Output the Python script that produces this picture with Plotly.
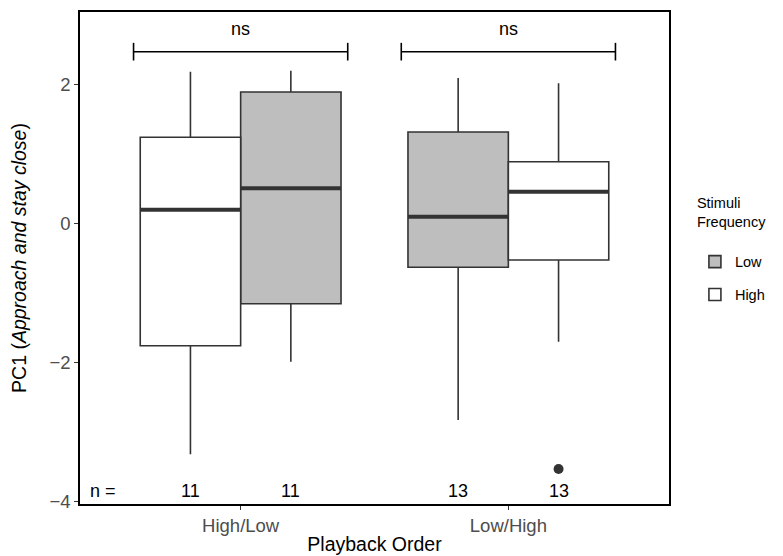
import plotly.graph_objects as go

# ---- data ----
orders = ["High/Low", "Low/High"]

low_q1 = [-1.151, -0.627]
low_median = [0.509, 0.101]
low_q3 = [1.895, 1.319]
low_lower = [-1.986, -2.824]
low_upper = [2.201, 2.096]
low_n = [11, 13]

high_q1 = [-1.755, -0.522]
high_median = [0.201, 0.460]
high_q3 = [1.243, 0.892]
high_lower = [-3.318, -1.698]
high_upper = [2.187, 2.020]
high_n = [11, 13]

high_outlier_order = ["Low/High"]
high_outlier_value = [-3.53]

sig_labels = ["ns", "ns"]
sig_bracket_y = 2.475
n_label_y = -3.84

# ---- style ----
DODGE = 0.1875
BOXW = 0.375
LINE = "#333333"
FONT = "Liberation Sans, Arial, sans-serif"


def pos(order, stim):
    g = orders.index(order) + 1
    first = order.split("/")[0]
    return g - DODGE if first == stim else g + DODGE


low_x = [pos(o, "Low") for o in orders]
high_x = [pos(o, "High") for o in orders]

fig = go.Figure()

for name, xs, q1, med, q3, lo, hi, fill in [
    ("Low", low_x, low_q1, low_median, low_q3, low_lower, low_upper, "#BEBEBE"),
    ("High", high_x, high_q1, high_median, high_q3, high_lower, high_upper, "#FFFFFF"),
]:
    fig.add_trace(go.Box(
        name=name, legendgroup=name, x=xs, q1=q1, median=med, q3=q3,
        lowerfence=lo, upperfence=hi, width=BOXW,
        fillcolor=fill, line=dict(color=LINE, width=1.6),
        whiskerwidth=0, boxpoints=False, hoverinfo="skip",
    ))
    mx, my = [], []
    for c, m in zip(xs, med):
        mx += [c - BOXW / 2, c + BOXW / 2, None]
        my += [m, m, None]
    fig.add_trace(go.Scatter(x=mx, y=my, mode="lines",
                             line=dict(color=LINE, width=4),
                             showlegend=False, hoverinfo="skip"))

# outlier
fig.add_trace(go.Scatter(
    x=[pos(o, "High") for o in high_outlier_order], y=high_outlier_value,
    mode="markers", marker=dict(color=LINE, size=10),
    showlegend=False, hoverinfo="skip"))

# significance brackets
tip = 0.127
bx, by = [], []
for i, o in enumerate(orders):
    g = i + 1
    x0, x1 = g - 0.4, g + 0.4
    bx += [x0, x0, None, x0, x1, None, x1, x1, None]
    by += [sig_bracket_y - tip, sig_bracket_y + tip, None,
           sig_bracket_y, sig_bracket_y, None,
           sig_bracket_y - tip, sig_bracket_y + tip, None]
    fig.add_annotation(x=g, y=sig_bracket_y + 0.33, text=sig_labels[i],
                       showarrow=False, yanchor="middle",
                       font=dict(family=FONT, size=18, color="black"))
fig.add_trace(go.Scatter(x=bx, y=by, mode="lines",
                         line=dict(color="black", width=1.6),
                         showlegend=False, hoverinfo="skip"))

# n labels
fig.add_annotation(x=0.487, y=n_label_y, text="n =", showarrow=False,
                   font=dict(family=FONT, size=18, color="black"))
for xs, ns in [(low_x, low_n), (high_x, high_n)]:
    for c, n in zip(xs, ns):
        fig.add_annotation(x=c, y=n_label_y, text=str(n), showarrow=False,
                           font=dict(family=FONT, size=18, color="black"))

# the page body has an 8px margin, so the figure is 8px smaller each way
fig.update_layout(
    width=775, height=548,
    margin=dict(l=72, r=114, t=4, b=52, autoexpand=False),
    paper_bgcolor="white", plot_bgcolor="white",
    boxmode="overlay",
    font=dict(family=FONT, color="black"),
    legend=dict(
        title=dict(text="Stimuli<br>Frequency<br> ", font=dict(size=14.5, family=FONT)),
        font=dict(size=14.5, family=FONT),
        x=1.044, xanchor="left", y=0.64, yanchor="top",
        bgcolor="rgba(0,0,0,0)", traceorder="grouped", tracegroupgap=11,
    ),
    xaxis=dict(
        range=[0.4, 2.6], tickvals=[1, 2], ticktext=orders,
        showgrid=False, zeroline=False, automargin=False,
        showline=True, mirror=True, linecolor="black", linewidth=1.6,
        ticks="outside", ticklen=4, tickcolor=LINE, tickwidth=1.2,
        tickfont=dict(family=FONT, size=18.5, color="#4D4D4D"),
        title=dict(text="Playback Order", standoff=2,
                   font=dict(family=FONT, size=19.5, color="black")),
    ),
    yaxis=dict(
        range=[-4.033, 3.046], tickvals=[-4, -2, 0, 2],
        ticktext=["\u22124", "\u22122", "0", "2"],
        showgrid=False, zeroline=False, automargin=False,
        showline=True, mirror=True, linecolor="black", linewidth=1.6,
        ticks="outside", ticklen=4, tickcolor=LINE, tickwidth=1.2,
        tickfont=dict(family=FONT, size=18.5, color="#4D4D4D"),
        title=dict(text="PC1 (<i>Approach and stay close</i>)", standoff=20,
                   font=dict(family=FONT, size=19.5, color="black")),
    ),
)

fig.write_html("out.html")
